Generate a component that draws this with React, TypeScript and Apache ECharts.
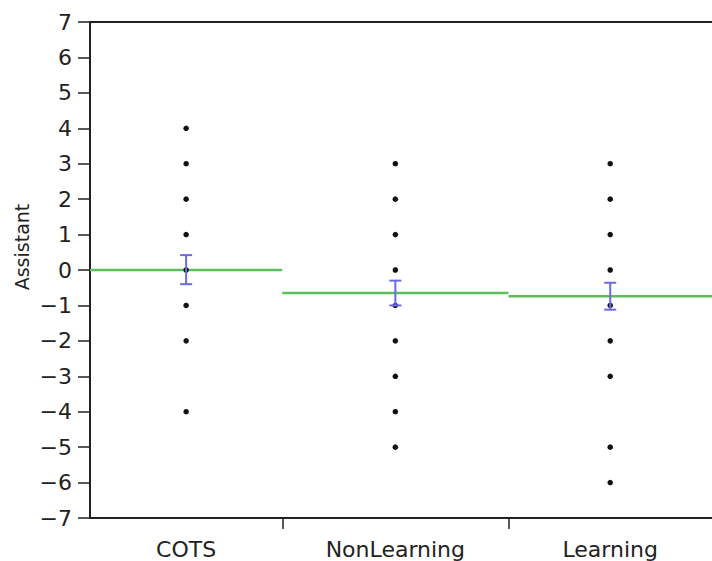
import React, { useEffect, useRef } from "react";
import * as echarts from "echarts";

// Groups (band widths proportional to group size, as in the reference)
const categories = ["COTS", "NonLearning", "Learning"];
const groupCounts = [17, 20, 18];

// Observed (distinct) response values per group
const cotsValues = [4, 3, 2, 1, 0, -1, -2, -4];
const nonLearningValues = [3, 2, 1, 0, -1, -2, -3, -4, -5];
const learningValues = [3, 2, 1, 0, -1, -2, -3, -5, -6];

// Group means and error bar limits
const means = [0.0, -0.65, -0.74];
const errLow = [-0.4, -1.0, -1.12];
const errHigh = [0.42, -0.3, -0.36];

const yTicks = [-7, -6, -5, -4, -3, -2, -1, 0, 1, 2, 3, 4, 5, 6, 7];

export default function App() {
  const ref = useRef<HTMLDivElement>(null);

  useEffect(() => {
    if (!ref.current) return;
    const chart = echarts.init(ref.current, null, { renderer: "svg" });

    const starts: number[] = [];
    const ends: number[] = [];
    let acc = 0;
    groupCounts.forEach((c) => {
      starts.push(acc);
      acc += c;
      ends.push(acc);
    });
    const total = acc;
    const centers = starts.map((s, i) => (s + ends[i]) / 2);
    const boundaries = ends.slice(0, -1);
    const valueSets = [cotsValues, nonLearningValues, learningValues];

    const font = "DejaVu Sans";
    const axisColor = "#222";

    const series: any[] = [];
    valueSets.forEach((vals, i) => {
      series.push({
        type: "line",
        data: [
          [starts[i], means[i]],
          [ends[i], means[i]],
        ],
        symbol: "none",
        lineStyle: { color: "#5cbf5c", width: 2.5 },
        z: 2,
      });
    });
    valueSets.forEach((vals, i) => {
      series.push({
        type: "scatter",
        data: vals.map((v) => [centers[i], v]),
        symbol: "circle",
        symbolSize: 5.5,
        itemStyle: { color: "#111", opacity: 1 },
        z: 4,
      });
    });
    series.push({
      type: "custom",
      data: categories.map((_, i) => [centers[i], errLow[i], errHigh[i]]),
      renderItem: (params: any, api: any) => {
        const x = api.value(0);
        const lo = api.coord([x, api.value(1)]);
        const hi = api.coord([x, api.value(2)]);
        const hw = 6;
        const style = { stroke: "#6a6ae6", lineWidth: 2 };
        return {
          type: "group",
          children: [
            { type: "line", shape: { x1: lo[0], y1: lo[1], x2: hi[0], y2: hi[1] }, style },
            { type: "line", shape: { x1: lo[0] - hw, y1: lo[1], x2: lo[0] + hw, y2: lo[1] }, style },
            { type: "line", shape: { x1: hi[0] - hw, y1: hi[1], x2: hi[0] + hw, y2: hi[1] }, style },
          ],
        };
      },
      z: 5,
    });

    chart.setOption({
      animation: false,
      backgroundColor: "#fff",
      grid: { left: 90, right: 0, top: 22, bottom: 43, containLabel: false },
      xAxis: [
        {
          type: "value",
          min: 0,
          max: total,
          position: "bottom",
          axisLine: { show: true, onZero: false, lineStyle: { color: axisColor, width: 2 } },
          axisTick: {
            show: true,
            customValues: boundaries,
            length: 11,
            inside: false,
            lineStyle: { color: axisColor, width: 1.5 },
          },
          axisLabel: {
            show: true,
            customValues: centers,
            formatter: (v: number) => {
              const idx = centers.findIndex((c) => Math.abs(c - v) < 1e-6);
              return idx >= 0 ? categories[idx] : "";
            },
            fontFamily: font,
            fontSize: 22,
            color: "#222",
            margin: 20,
          },
          splitLine: { show: false },
        },
        {
          type: "value",
          min: 0,
          max: total,
          position: "top",
          axisLine: { show: true, onZero: false, lineStyle: { color: axisColor, width: 2 } },
          axisTick: { show: false },
          axisLabel: { show: false },
          splitLine: { show: false },
        },
      ],
      yAxis: {
        type: "value",
        min: yTicks[0],
        max: yTicks[yTicks.length - 1],
        interval: 1,
        axisLine: { show: true, onZero: false, lineStyle: { color: axisColor, width: 2 } },
        axisTick: { show: true, length: 12, lineStyle: { color: axisColor, width: 1.5 } },
        axisLabel: {
          fontFamily: font,
          fontSize: 22,
          color: "#222",
          margin: 18,
          formatter: (v: number) => (v < 0 ? "\u2212" + Math.abs(v) : String(v)),
        },
        splitLine: { show: false },
      },
      graphic: [
        {
          type: "text",
          x: 22,
          y: 247,
          rotation: Math.PI / 2,
          style: {
            text: "Assistant",
            fontFamily: font,
            fontSize: 19,
            fill: "#222",
            align: "center",
            verticalAlign: "middle",
          },
        },
      ],
      series,
    });

    return () => chart.dispose();
  }, []);

  return <div ref={ref} style={{ width: 712, height: 561, position: "absolute", left: 0, top: 0 }} />;
}
